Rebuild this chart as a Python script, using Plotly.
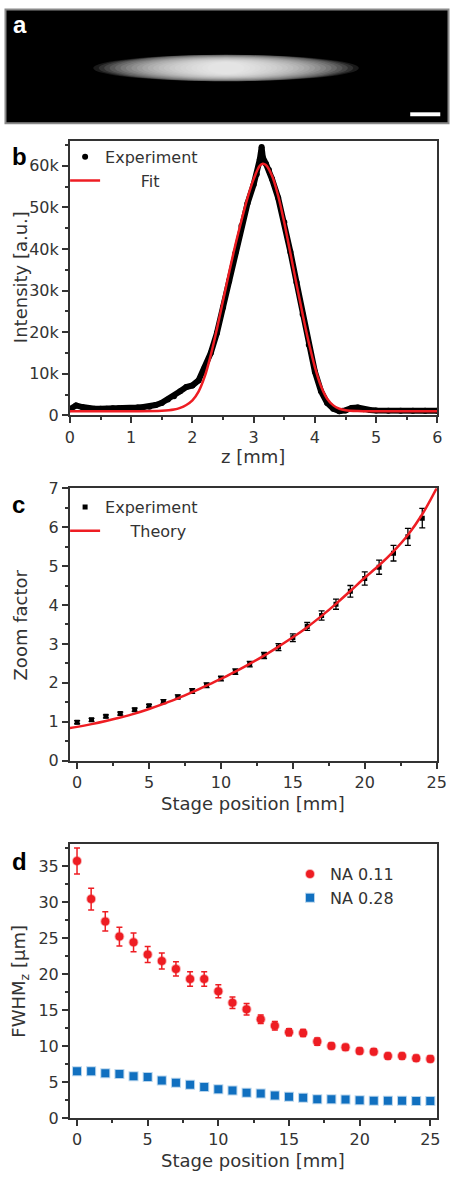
import plotly.graph_objects as go

W, H = 458, 1184
FONT = "DejaVu Sans"
TXT = "#333333"
AX = "#333333"
RED = "#ee1d23"
BLUE = "#1170c0"

# ---------------- panel b data ----------------
z_exp = [0.0, 0.1, 0.2, 0.3, 0.4, 0.5, 0.6, 0.7, 0.8, 0.9, 1.0, 1.1, 1.2, 1.3, 1.4, 1.5,
         1.6, 1.7, 1.8, 1.9, 2.0, 2.1, 2.2, 2.3, 2.4, 2.5, 2.6, 2.7, 2.8, 2.9, 3.0, 3.05,
         3.1, 3.13, 3.15, 3.2, 3.25, 3.3, 3.4, 3.5, 3.6, 3.7, 3.8, 3.9, 4.0, 4.1, 4.2, 4.3,
         4.4, 4.5, 4.6, 4.7, 4.8, 4.9, 5.0, 5.2, 5.4, 5.6, 5.8, 6.0]
i_exp = [1500, 2400, 2000, 1700, 1600, 1600, 1600, 1700, 1700, 1800, 1800, 1900, 2000, 2100,
         2500, 3000, 3800, 4600, 5800, 6800, 7200, 8400, 11500, 15000, 19800, 26000, 32300,
         39000, 45500, 51000, 55500, 58000, 61500, 64500, 62000, 60500, 59000, 56800, 52300,
         46400, 39300, 32000, 24300, 17000, 10500, 5800, 3000, 1600, 1000, 1200, 1800, 1900,
         1500, 1300, 1200, 1100, 1100, 1100, 1100, 1100]
z_fit = [0.0, 0.5, 1.0, 1.5, 1.7, 1.8, 1.9, 2.0, 2.1, 2.2, 2.3, 2.4, 2.5, 2.6, 2.7, 2.8,
         2.9, 3.0, 3.1, 3.15, 3.2, 3.3, 3.4, 3.5, 3.6, 3.7, 3.8, 3.9, 4.0, 4.1, 4.2, 4.3,
         4.4, 4.5, 4.7, 5.0, 6.0]
i_fit = [1000, 1000, 1000, 1100, 1400, 1800, 2500, 3600, 5700, 9300, 14500, 20800, 27600,
         34400, 40900, 46800, 52300, 56800, 60000, 60500, 60200, 57600, 52800, 46300, 39000,
         31500, 24300, 17500, 11600, 7000, 4000, 2400, 1600, 1250, 1050, 1000, 1000]

# ---------------- panel c data ----------------
stage_c = list(range(0, 25))
zoom_exp = [0.99, 1.05, 1.14, 1.21, 1.31, 1.41, 1.52, 1.64, 1.79, 1.94, 2.11, 2.29, 2.48,
            2.70, 2.92, 3.16, 3.45, 3.73, 4.02, 4.35, 4.68, 4.97, 5.33, 5.75, 6.23]
zoom_err = [0.04, 0.04, 0.04, 0.04, 0.04, 0.04, 0.05, 0.05, 0.06, 0.06, 0.06, 0.07, 0.07,
            0.08, 0.09, 0.10, 0.10, 0.12, 0.13, 0.15, 0.17, 0.18, 0.20, 0.22, 0.25]
stage_theory = [-0.5, 0, 1, 2, 3, 4, 5, 6, 7, 8, 9, 10, 11, 12, 13, 14, 15, 16, 17, 18, 19,
                20, 21, 22, 23, 24, 25]
zoom_theory = [0.84, 0.87, 0.94, 1.02, 1.11, 1.21, 1.33, 1.46, 1.60, 1.76, 1.93, 2.10, 2.29,
               2.49, 2.70, 2.93, 3.17, 3.43, 3.72, 4.03, 4.36, 4.70, 5.02, 5.38, 5.80,
               6.33, 7.00]

# ---------------- panel d data ----------------
stage_d = list(range(0, 26))
fwhm_011 = [35.7, 30.4, 27.3, 25.2, 24.4, 22.7, 21.8, 20.7, 19.3, 19.3, 17.6, 16.0, 15.1,
            13.7, 12.8, 11.9, 11.8, 10.6, 10.0, 9.8, 9.3, 9.2, 8.6, 8.6, 8.3, 8.2]
err_011 = [1.8, 1.5, 1.35, 1.3, 1.3, 1.1, 1.1, 1.0, 1.0, 1.0, 0.9, 0.8, 0.8, 0.6, 0.6, 0.5,
           0.5, 0.5, 0.4, 0.4, 0.4, 0.4, 0.4, 0.4, 0.4, 0.4]
fwhm_028 = [6.5, 6.5, 6.2, 6.1, 5.8, 5.7, 5.2, 4.9, 4.6, 4.3, 4.0, 3.8, 3.5, 3.4, 3.1, 2.95,
            2.8, 2.6, 2.6, 2.55, 2.45, 2.4, 2.4, 2.4, 2.35, 2.35]
err_028 = [0.2] * 26

# ---------------- geometry helpers (pixels -> paper) ----------------
def px(x):
    return x / W

def py(y):
    return 1 - y / H

XL, XR = 67, 446
PANELS = {"b": (134, 413), "c": (487, 764), "d": (849, 1127)}

fig = go.Figure()

# ---------- traces ----------
fig.add_trace(go.Scatter(x=z_exp, y=i_exp, mode="lines", line=dict(color="black", width=6),
                         showlegend=False, hoverinfo="skip", xaxis="x", yaxis="y"))
fig.add_trace(go.Scatter(x=z_exp, y=i_exp, mode="markers", name="Experiment",
                         marker=dict(color="black", size=6), xaxis="x", yaxis="y",
                         legend="legend"))
fig.add_trace(go.Scatter(x=z_fit, y=i_fit, mode="lines", name="\u00a0\u00a0\u00a0\u00a0\u00a0\u00a0\u00a0Fit",
                         line=dict(color=RED, width=2.5, shape="spline"), xaxis="x", yaxis="y",
                         legend="legend"))

fig.add_trace(go.Scatter(x=stage_c, y=zoom_exp, mode="markers", name="Experiment",
                         marker=dict(color="black", size=5, symbol="square"),
                         error_y=dict(type="data", array=zoom_err, color="black", thickness=1.3, width=3),
                         xaxis="x2", yaxis="y2", legend="legend2"))
fig.add_trace(go.Scatter(x=stage_theory, y=zoom_theory, mode="lines",
                         name="\u00a0\u00a0\u00a0\u00a0\u00a0Theory",
                         line=dict(color=RED, width=2.5, shape="spline"),
                         xaxis="x2", yaxis="y2", legend="legend2"))

fig.add_trace(go.Scatter(x=stage_d, y=fwhm_011, mode="markers", name="NA 0.11",
                         marker=dict(color=RED, size=8, symbol="circle",
                                     line=dict(color="rgba(238,29,35,0.35)", width=2)),
                         error_y=dict(type="data", array=err_011, color=RED, thickness=1.5, width=3),
                         xaxis="x3", yaxis="y3", legend="legend3"))
fig.add_trace(go.Scatter(x=stage_d, y=fwhm_028, mode="markers", name="NA 0.28",
                         marker=dict(color=BLUE, size=8, symbol="square",
                                     line=dict(color="rgba(17,112,192,0.3)", width=2)),
                         error_y=dict(type="data", array=err_028, color=BLUE, thickness=1, width=2),
                         xaxis="x3", yaxis="y3", legend="legend3"))

# ---------- axes ----------
tickfont = dict(family=FONT, size=16, color=TXT)

def main_axis(rng, dtick, minor_dtick, domain, anchor, **kw):
    d = dict(range=rng, domain=domain, anchor=anchor, dtick=dtick, tick0=0,
             showline=True, linecolor=AX, linewidth=2, mirror=True,
             ticks="outside", ticklen=6, tickwidth=1.5, tickcolor=AX,
             minor=dict(ticks="outside", ticklen=3, tickwidth=1.5, tickcolor=AX,
                        dtick=minor_dtick, tick0=0),
             showgrid=False, zeroline=False, tickfont=tickfont, fixedrange=True)
    d.update(kw)
    return d

def overlay_axis(rng, dtick, minor_dtick, overlaying, anchor, side):
    return dict(range=rng, overlaying=overlaying, anchor=anchor, side=side, dtick=dtick, tick0=0,
                showline=False, ticks="inside", ticklen=6, tickwidth=1.5, tickcolor=AX,
                minor=dict(ticks="inside", ticklen=3, tickwidth=1.5, tickcolor=AX,
                           dtick=minor_dtick, tick0=0),
                showticklabels=False, showgrid=False, zeroline=False, fixedrange=True)

xdom = [px(XL), px(XR)]
def ydom(p):
    t, b = PANELS[p]
    return [py(b), py(t)]

rb_x, rb_y = [0, 6], [0, 66000]
rc_x, rc_y = [-0.5, 25.05], [0, 7]
rd_x, rd_y = [-0.5, 25.5], [0, 38]

layout_axes = dict(
    xaxis=main_axis(rb_x, 1, 0.5, xdom, "y"),
    yaxis=main_axis(rb_y, 10000, 5000, ydom("b"), "x", tickformat="~s"),
    xaxis2=main_axis(rc_x, 5, 2.5, xdom, "y2"),
    yaxis2=main_axis(rc_y, 1, 0.5, ydom("c"), "x2"),
    xaxis3=main_axis(rd_x, 5, 2.5, xdom, "y3"),
    yaxis3=main_axis(rd_y, 5, 2.5, ydom("d"), "x3"),
    xaxis4=overlay_axis(rb_x, 1, 0.5, "x", "y", "top"),
    yaxis4=overlay_axis(rb_y, 10000, 5000, "y", "x", "right"),
    xaxis5=overlay_axis(rc_x, 5, 2.5, "x2", "y2", "top"),
    yaxis5=overlay_axis(rc_y, 1, 0.5, "y2", "x2", "right"),
    xaxis6=overlay_axis(rd_x, 5, 2.5, "x3", "y3", "top"),
    yaxis6=overlay_axis(rd_y, 5, 2.5, "y3", "x3", "right"),
)

legfont = dict(family=FONT, size=16, color=TXT)
legends = dict(
    legend=dict(x=px(62), y=py(133), xanchor="left", yanchor="top", font=legfont,
                bgcolor="rgba(0,0,0,0)", tracegroupgap=0, itemwidth=30),
    legend2=dict(x=px(62), y=py(489), xanchor="left", yanchor="top", font=legfont,
                 bgcolor="rgba(0,0,0,0)", tracegroupgap=0, itemwidth=30),
    legend3=dict(x=px(294), y=py(862), xanchor="left", yanchor="top", font=legfont,
                 bgcolor="rgba(0,0,0,0)", tracegroupgap=0, itemwidth=30),
)

# ---------- annotations ----------
title_font = dict(family=FONT, size=18, color=TXT)
letter_font = dict(family="Liberation Sans", size=24, color="black")
ann = []
def add_text(text, x, y, font, angle=0, xanchor="center", yanchor="middle"):
    ann.append(dict(text=text, x=px(x), y=py(y), xref="paper", yref="paper", showarrow=False,
                    font=font, textangle=angle, xanchor=xanchor, yanchor=yanchor))

add_text("<b>a</b>", 6, 16, dict(family="Liberation Sans", size=24, color="white"), xanchor="left")
add_text("<b>b</b>", 5, 150, letter_font, xanchor="left")
add_text("<b>c</b>", 5, 504, letter_font, xanchor="left")
add_text("<b>d</b>", 5, 866, letter_font, xanchor="left")
add_text("Intensity [a.u.]", 16, 273, title_font, angle=-90)
add_text("z [mm]", 256, 455, title_font)
add_text("Zoom factor", 16, 626, title_font, angle=-90)
add_text("Stage position [mm]", 256, 807, title_font)
add_text("FWHM<sub>z</sub> [μm]", 16, 988, title_font, angle=-90)
add_text("Stage position [mm]", 256, 1170, title_font)

# ---------- panel a (image drawn with layered translucent ellipses) ----------
shapes = [dict(type="rect", xref="paper", yref="paper", x0=px(0.5), x1=px(457.5),
               y0=py(116), y1=py(0.5), fillcolor="black", line=dict(color="#8a8a8a", width=2),
               layer="below")]
cx, cy = 228, 60
half_w, half_h = 137, 13.5
n_layers = 22
for k in range(n_layers):
    s = 1.0 - 0.86 * k / (n_layers - 1)
    hh = half_h * min(1.0, 0.35 + 0.75 * s)
    shapes.append(dict(type="circle", xref="paper", yref="paper",
                       x0=px(cx - half_w * s), x1=px(cx + half_w * s),
                       y0=py(cy + hh), y1=py(cy - hh),
                       fillcolor="white", opacity=0.1, line=dict(width=0), layer="below"))
shapes.append(dict(type="rect", xref="paper", yref="paper", x0=px(418), x1=px(449),
                   y0=py(109), y1=py(105), fillcolor="white", line=dict(width=0)))

fig.update_layout(
    width=W, height=H, margin=dict(l=0, r=0, t=0, b=0),
    paper_bgcolor="white", plot_bgcolor="rgba(0,0,0,0)",
    showlegend=True, annotations=ann, shapes=shapes,
    font=dict(family=FONT, color=TXT),
    **layout_axes, **legends,
)

fig.write_html("out.html", config={"displayModeBar": False},
               post_script="document.body.style.margin='0px';document.body.style.overflow='hidden';")
